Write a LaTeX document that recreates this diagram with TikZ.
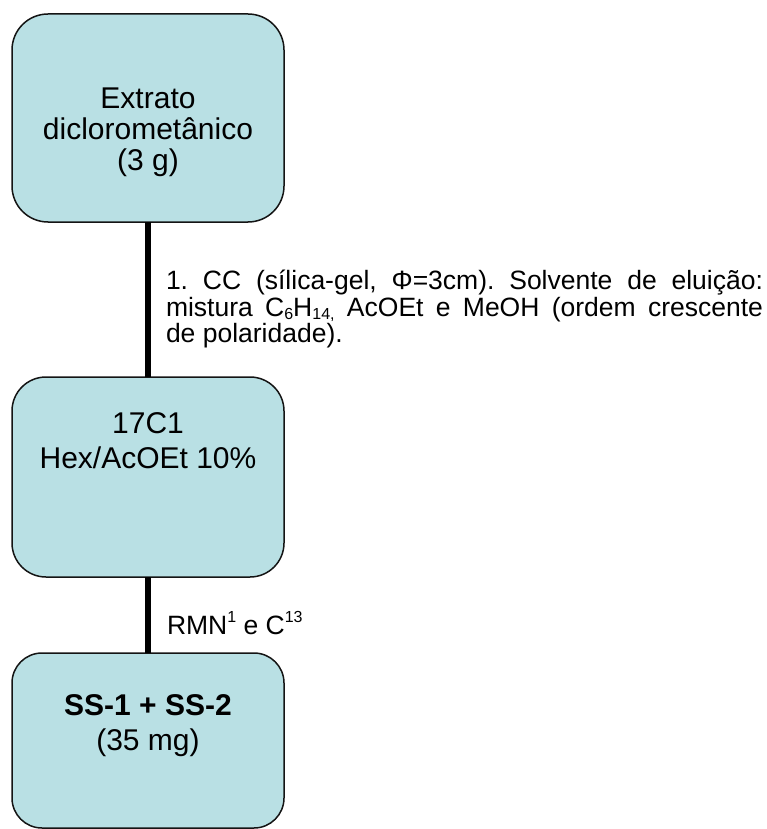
\documentclass[tikz,border=0pt]{standalone}
\usepackage{fontspec}
\setmainfont{Liberation Sans}
\usetikzlibrary{positioning}
\definecolor{boxfill}{RGB}{185,224,228}
\definecolor{boxline}{RGB}{20,20,20}
\newcommand{\upidx}[1]{\raisebox{0.42em}{\fontsize{16}{16}\selectfont #1}}
\newcommand{\dnidx}[1]{\raisebox{-0.12em}{\fontsize{16}{16}\selectfont #1}}

\begin{document}
\begin{tikzpicture}[
  x=1pt, y=-1pt,
  box/.style={draw=boxline, fill=boxfill, line width=1.5pt, rounded corners=#1,
    minimum width=272pt, inner sep=0pt, outer sep=0pt},
  boxtext/.style={align=center, inner sep=0pt, outer sep=0pt, anchor=north,
    font=\fontsize{30}{35}\selectfont},
  note/.style={inner sep=0pt, outer sep=0pt, font=\fontsize{26.5}{26.5}\selectfont\frenchspacing},
  link/.style={line width=5.5pt}
]
\useasboundingbox (0,0) rectangle (767,829);

% boxes
\node[box=36pt, minimum height=208pt] (extrato) at (148,118) {};
\node[box=34pt, minimum height=200pt, below=155pt of extrato] (fr17c1) {};
\node[box=30pt, minimum height=175pt, below=76pt of fr17c1] (ss) {};

% box texts
\node[boxtext, font=\fontsize{30}{31}\selectfont, below=74pt of extrato.north] (t1)
  {Extrato\\diclorometânico\\(3 g)};
\node[boxtext, below=36pt of fr17c1.north] (t2) {17C1\\Hex/AcOEt 10\%};
\node[boxtext, below=42pt of ss.north] (t3) {\bfseries SS-1 + SS-2\\(35 mg)};

% connectors
\draw[link] (extrato) -- (fr17c1);
\draw[link] (fr17c1) -- (ss);

% step labels
\node[note, text width=597pt, align=justify, anchor=north west] (cc) at (166,270)
  {1. CC (sílica-gel, Φ=3cm). Solvente de eluição:\linebreak
   mistura C\dnidx{6}H\dnidx{14,} AcOEt e MeOH (ordem crescente\linebreak
   de polaridade).};
\node[note, anchor=base west] (rmn) at (167,634)
  {RMN\upidx{1} e C\upidx{13}};
\end{tikzpicture}
\end{document}
